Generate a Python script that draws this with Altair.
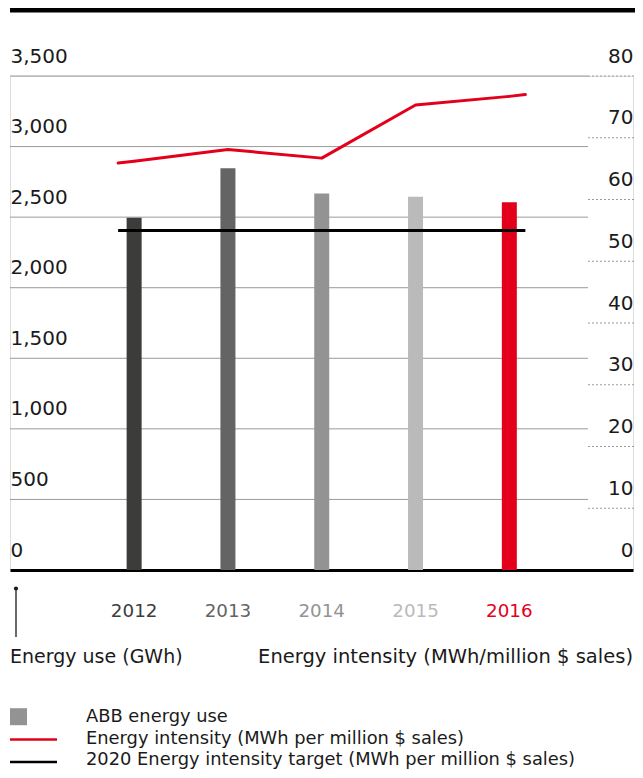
import altair as alt
import pandas as pd

# ---- data ----
years = [2012, 2013, 2014, 2015, 2016]
energy_use = [2495, 2846, 2668, 2645, 2605]          # GWh (left axis)
intensity = [66.2, 68.1, 66.7, 75.3, 76.7]           # MWh per million $ sales (right axis)
line_start_value = 65.9                              # where the red line begins, left of 2012 bar
line_end_value = 77.0                                # where the red line ends, right of 2016 bar
target_value = 55                                    # 2020 intensity target
bar_colors = ["#3c3c3b", "#646464", "#939393", "#bababa", "#e2001a"]
left_ticks = [0, 500, 1000, 1500, 2000, 2500, 3000, 3500]
right_ticks = [0, 10, 20, 30, 40, 50, 60, 70, 80]
axis_titles = ["Energy use (GWh)", "Energy intensity (MWh/million $ sales)"]
legend_labels = [
    "ABB energy use",
    "Energy intensity (MWh per million $ sales)",
    "2020 Energy intensity target (MWh per million $ sales)",
]

RED = "#e2001a"
FONT = "DejaVu Sans"
W, H = 623, 494
EXT = 16   # how far the lines run past the outer bars (px)

df = pd.DataFrame({"year": years, "energy": energy_use,
                   "intensity": intensity, "color": bar_colors})
df_target = pd.DataFrame({"start": [years[0]], "end": [years[-1]], "target": [target_value]})
df_ext_l = pd.DataFrame({"year": [years[0]], "a": [line_start_value], "b": [intensity[0]]})
df_ext_r = pd.DataFrame({"year": [years[-1]], "a": [intensity[-1]], "b": [line_end_value]})
df_lgrid = pd.DataFrame({"v": left_ticks[1:]})
df_rgrid = pd.DataFrame({"v": right_ticks[1:]})
one = pd.DataFrame({"a": [0]})

xscale = alt.Scale(domain=[2010.73, 2017.265], nice=False, zero=False)
xaxis = alt.Axis(labels=False, ticks=False, title=None, grid=False,
                 domainColor="#000000", domainWidth=3)

lscale = alt.Scale(domain=[0, 3500], nice=False)
rscale = alt.Scale(domain=[0, 80], nice=False)
laxis = alt.Axis(orient="left", values=left_ticks, format=",d", title=None,
                 grid=False, domain=False, ticks=False, tickSize=0,
                 labelAlign="left", labelPadding=0, labelBaseline="alphabetic",
                 labelOffset=-14, labelFont=FONT, labelFontSize=20,
                 labelColor="#1a1a1a")
raxis = alt.Axis(orient="right", values=right_ticks, title=None,
                 grid=False, domain=False, ticks=False, tickSize=0,
                 labelAlign="right", labelPadding=0, labelBaseline="alphabetic",
                 labelOffset=-14, labelFont=FONT, labelFontSize=20,
                 labelColor="#1a1a1a")

# ---- left (energy use) group ----
lgrid = alt.Chart(df_lgrid).mark_rule(color="#9a9a9a", strokeWidth=1).encode(
    y=alt.Y("v:Q", scale=lscale, axis=laxis),
    x=alt.value(0), x2=alt.value(578))

bars = alt.Chart(df).mark_bar(size=15).encode(
    x=alt.X("year:Q", scale=xscale, axis=xaxis),
    y=alt.Y("energy:Q", scale=lscale, axis=laxis),
    color=alt.Color("color:N", scale=None))

left = alt.layer(lgrid, bars)

# ---- right (intensity) group ----
rgrid = alt.Chart(df_rgrid).mark_rule(color="#9a9a9a", strokeWidth=1, strokeDash=[2, 2]).encode(
    y=alt.Y("v:Q", scale=rscale, axis=raxis),
    x=alt.value(578), x2=alt.value(625))

target = alt.Chart(df_target).mark_rule(color="#000000", strokeWidth=3,
                                         xOffset=-EXT, x2Offset=EXT).encode(
    x=alt.X("start:Q", scale=xscale, axis=xaxis),
    x2="end:Q",
    y=alt.Y("target:Q", scale=rscale, axis=raxis))

line = alt.Chart(df).mark_line(color=RED, strokeWidth=3, strokeJoin="round").encode(
    x=alt.X("year:Q", scale=xscale, axis=xaxis),
    y=alt.Y("intensity:Q", scale=rscale, axis=raxis))

ext_l = alt.Chart(df_ext_l).mark_rule(color=RED, strokeWidth=3, strokeCap="round",
                                       xOffset=-EXT, x2Offset=0).encode(
    x=alt.X("year:Q", scale=xscale, axis=xaxis), x2="year:Q",
    y=alt.Y("a:Q", scale=rscale, axis=raxis), y2="b:Q")
ext_r = alt.Chart(df_ext_r).mark_rule(color=RED, strokeWidth=3, strokeCap="round",
                                       xOffset=0, x2Offset=EXT).encode(
    x=alt.X("year:Q", scale=xscale, axis=xaxis), x2="year:Q",
    y=alt.Y("a:Q", scale=rscale, axis=raxis), y2="b:Q")

right = alt.layer(rgrid, target, line, ext_l, ext_r)

# ---- decorations: year labels, titles, marker, top rule, legend ----
year_text = alt.Chart(df).mark_text(font=FONT, fontSize=18.3, baseline="alphabetic",
                                     align="center").encode(
    x=alt.X("year:Q", scale=xscale, axis=xaxis),
    y=alt.value(540.7),
    text=alt.Text("year:Q", format="d"),
    color=alt.Color("color:N", scale=None))

title_left = alt.Chart(one).mark_text(text=axis_titles[0], font=FONT, fontSize=19,
                                       align="left", baseline="alphabetic", color="#1a1a1a").encode(
    x=alt.value(0), y=alt.value(587.3))
title_right = alt.Chart(one).mark_text(text=axis_titles[1], font=FONT, fontSize=19.5,
                                        align="right", baseline="alphabetic", color="#1a1a1a").encode(
    x=alt.value(W), y=alt.value(587.3))

marker_line = alt.Chart(one).mark_rule(color="#1a1a1a", strokeWidth=1.3).encode(
    x=alt.value(6), y=alt.value(512), y2=alt.value(561))
marker_dot = alt.Chart(one).mark_circle(color="#1a1a1a", size=18, opacity=1).encode(
    x=alt.value(6), y=alt.value(512.5))

top_rule = alt.Chart(one).mark_rule(color="#000000", strokeWidth=5).encode(
    x=alt.value(0), x2=alt.value(625), y=alt.value(-66))

leg_base = [646, 668, 689]
leg_sq = alt.Chart(one).mark_square(size=289, color="#939393", opacity=1).encode(
    x=alt.value(8.5), y=alt.value(leg_base[0] - 5.3))
leg_red = alt.Chart(one).mark_rule(color=RED, strokeWidth=2.5).encode(
    x=alt.value(0), x2=alt.value(47), y=alt.value(leg_base[1] - 4.4))
leg_blk = alt.Chart(one).mark_rule(color="#000000", strokeWidth=2.5).encode(
    x=alt.value(0), x2=alt.value(47), y=alt.value(leg_base[2] - 3))
leg_texts = [
    alt.Chart(one).mark_text(text=lab, font=FONT, fontSize=17.85, align="left",
                             baseline="alphabetic", color="#1a1a1a").encode(
        x=alt.value(76), y=alt.value(yy))
    for lab, yy in zip(legend_labels, leg_base)
]

deco = alt.layer(year_text, title_left, title_right, marker_line, marker_dot,
                 top_rule, leg_sq, leg_red, leg_blk, *leg_texts)

chart = alt.layer(left, right, deco).resolve_scale(y="independent").properties(
    width=W, height=H,
    autosize=alt.AutoSizeParams(type="none"),
    padding={"left": 2, "top": 68, "right": 2, "bottom": 199},
).configure_view(strokeWidth=0).configure(font=FONT)

chart.save("out.html", embed_options={"renderer": "svg", "actions": False})
